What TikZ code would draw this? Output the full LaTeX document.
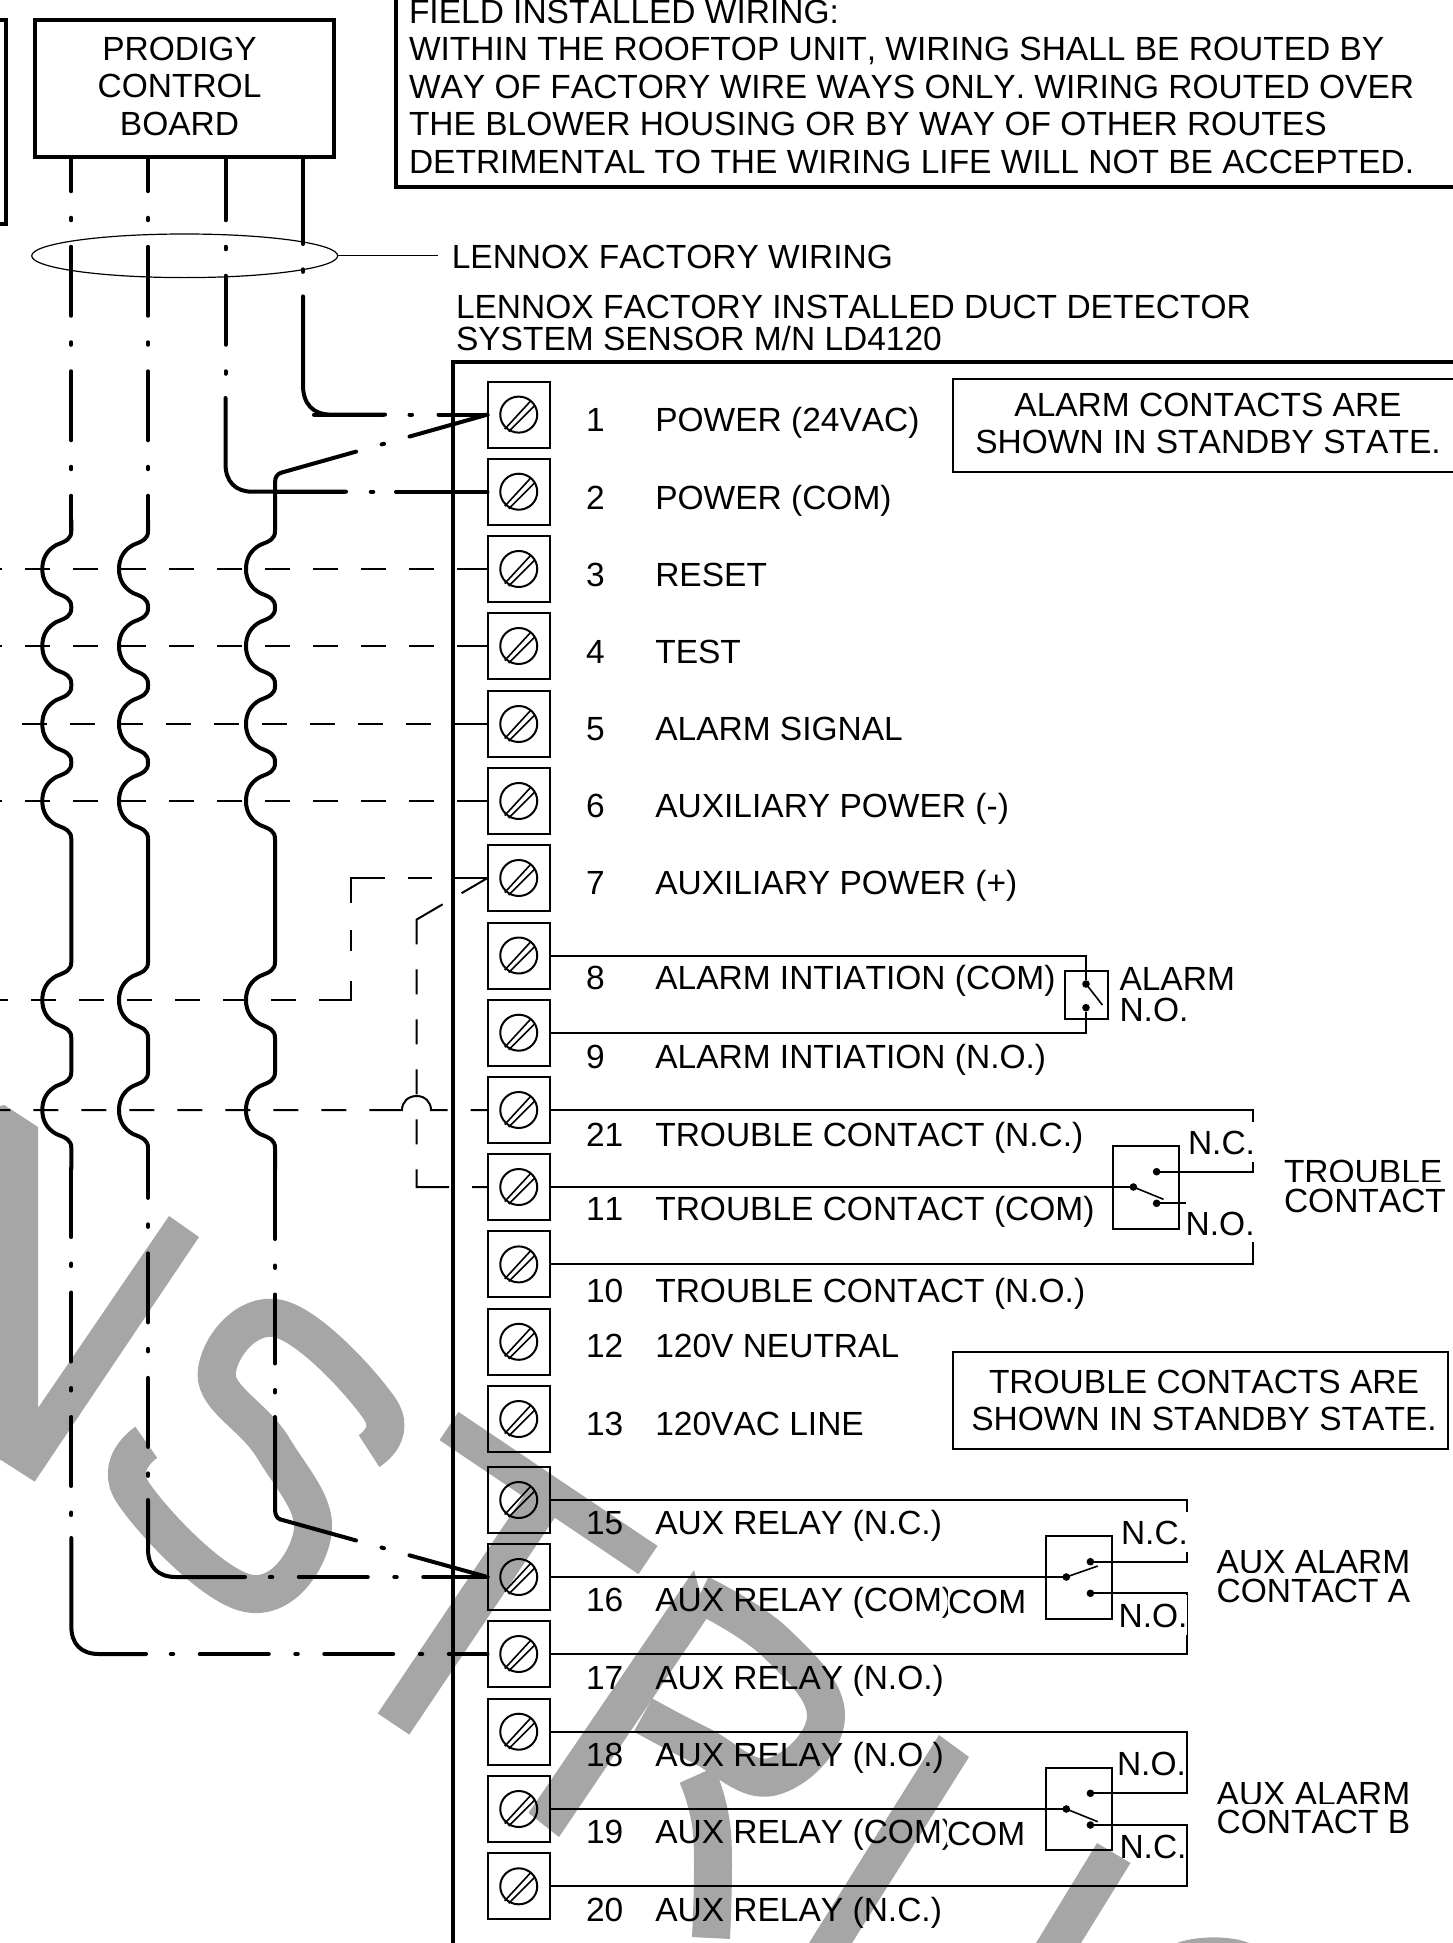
\documentclass[tikz,border=0pt]{standalone}
\usepackage{fontspec}
\setmainfont{Liberation Sans}[Kerning=Off]
\usetikzlibrary{shapes.geometric}
\definecolor{stampgray}{RGB}{166, 166, 166}

\newcommand{\wirehop}[2]{-- (#1,#2-38) .. controls (#1,#2-30) and (#1-5,#2-28) .. (#1-15,#2-24) .. controls (#1-24,#2-19) and (#1-29,#2-11) .. (#1-29,#2) .. controls (#1-29,#2+11) and (#1-24,#2+19) .. (#1-15,#2+24) .. controls (#1-5,#2+28) and (#1,#2+30) .. (#1,#2+38)}
\newcommand{\wirewaves}[1]{\wirehop{#1}{569} \wirehop{#1}{646} \wirehop{#1}{724} \wirehop{#1}{801} \wirehop{#1}{1000} \wirehop{#1}{1110}}

\tikzset{
  lbl/.style={font=\fontsize{33.5}{37.5}\selectfont, inner sep=0pt, outer sep=0pt, anchor=base west},
  masklbl/.style={lbl, fill=white, text height=33pt, text depth=7pt},
  cliplbl/.style={lbl, fill=white, text height=30pt, text depth=0pt},
  block/.style={font=\fontsize{33.5}{37.5}\selectfont, inner sep=0pt, outer sep=0pt},
  boxline/.style={black, line width=4pt},
  wire/.style={black, line width=4pt, line cap=round},
  wiredash/.style={dash pattern=on 69pt off 26.5pt on 2.5pt off 26.5pt},
  slantdash/.style={dash pattern=on 81pt off 26.5pt on 2.5pt off 26.5pt on 300pt off 1pt},
  thinline/.style={black, line width=2pt},
  hairline/.style={black, line width=1.2pt},
  blade/.style={black, line width=1.6pt},
  sigdash/.style={dash pattern=on #1 off 23pt on 25pt off 23pt on 25pt off 23pt on 25pt off 23pt on 25pt off 23pt on 25pt off 23pt on 25pt off 23pt on 25pt off 23pt on 25pt off 23pt on 25pt off 23pt on 25pt off 23pt},
  termbox/.style={draw, line width=2pt, minimum width=62.5pt, minimum height=66pt, inner sep=0pt, outer sep=0pt},
  thinbox/.style={draw, line width=2pt, inner sep=0pt, outer sep=0pt},
  contactdot/.style={circle, fill=black, minimum size=7.6pt, inner sep=0pt, outer sep=0pt},
  stamp/.style={stampgray, line width=38pt}
}

\begin{document}
\begin{tikzpicture}[x=1pt,y=-1pt]
    \useasboundingbox (0,0) rectangle (1452,1943);

    % Stamp behind the drawing
    \fill[stampgray] (0,1106) -- (4.3,1105) -- (38,1127) -- (38,1408) -- (169,1216) -- (199,1237) -- (34.7,1481.6) -- (1,1460) -- (0,1460) -- cycle;
    \draw[stamp] plot[smooth, tension=0.7] coordinates {(369,1451) (379.6,1408.6) (277.8,1318.5) (216.7,1373.8) (273,1447.6) (312.5,1533.7) (246.8,1593) (133,1492.7) (146.3,1442.3)};
    \draw[stamp, line width=34pt] (449,1426) -- (648,1560);
    \draw[stamp] (548.5,1493) -- (393.5,1724);
    \fill[stampgray] (694,1570) -- (528.5,1813) -- (559,1837) -- (707,1618) -- cycle;
    \draw[stamp] plot[smooth, tension=0.7] coordinates {(700,1594) (776,1643) (826,1717) (771,1777) (700,1745) (643,1715)};
    \draw[stamp] plot[smooth, tension=0.7] coordinates {(697,1775) (712,1833) (711,1938)};
    \fill[stampgray] (939,1735) -- (969,1757) -- (852,1943) -- (809,1943) -- cycle;
    \fill[stampgray] (1097,1843) -- (1130.5,1863) -- (1081,1943) -- (1036,1943) -- cycle;
    \fill[stampgray] (1177,1943) .. controls (1195,1936) and (1230,1935) .. (1249,1943) -- cycle;

    % Boards and note
    \draw[boxline] (-5,20) -- (5.5,20) -- (5.5,224) -- (-5,224);
    \node[thinbox, line width=4pt, minimum width=299.3pt, minimum height=137pt] (board) at (184.3,88.5) {};
    \node[block, align=center] (boardtext) at (179.5,86) {PRODIGY\\CONTROL\\BOARD};
    \draw[boxline] (396,-10) -- (396,186.5) -- (1460,186.5);
    \node[block, align=left, anchor=north west] (fieldnote) at (409,0) {FIELD INSTALLED WIRING:\\WITHIN THE ROOFTOP UNIT, WIRING SHALL BE ROUTED BY\\WAY OF FACTORY WIRE WAYS ONLY. WIRING ROUTED OVER\\THE BLOWER HOUSING OR BY WAY OF OTHER ROUTES\\DETRIMENTAL TO THE WIRING LIFE WILL NOT BE ACCEPTED.};

    % Wire bundle
    \node[ellipse, draw, line width=1.2pt, minimum width=306pt, minimum height=43.6pt, inner sep=0pt, outer sep=0pt] (bundle) at (184.7,255.8) {};
    \node[lbl] (factorywiring) at (451.8,268.5) {LENNOX FACTORY WIRING};
    \draw[hairline, shorten >=14.3pt] (bundle.east) -- (bundle.east -| factorywiring.west);

    % Duct detector
    \node[lbl] (detector1) at (456,318) {LENNOX FACTORY INSTALLED DUCT DETECTOR};
    \node[lbl] (detector2) at (456,350) {SYSTEM SENSOR M/N LD4120};
    \draw[boxline] (1460,362) -- (452.8,362) -- (452.8,1950);

    % Terminals
    \foreach \n/\ty/\ly/\txt in {1/414.6/431/{POWER (24VAC)}, 2/491.7/509/{POWER (COM)}, 3/569/586/{RESET}, 4/646/663.7/{TEST}, 5/724/740.5/{ALARM SIGNAL}, 6/801/817/{AUXILIARY POWER (-)}, 7/878/894.5/{AUXILIARY POWER (+)}, 8/955.5/989.6/{ALARM INTIATION (COM)}, 9/1032.7/1068/{ALARM INTIATION (N.O.)}, 21/1110/1146/{TROUBLE CONTACT (N.C.)}, 11/1187/1220/{TROUBLE CONTACT (COM)}, 10/1264.4/1302/{TROUBLE CONTACT (N.O.)}, 12/1341.8/1357.5/{120V NEUTRAL}, 13/1419/1435.6/{120VAC LINE}, 15/1500/1534.7/{AUX RELAY (N.C.)}, 16/1577/1611.5/{AUX RELAY (COM)}, 17/1654/1689.6/{AUX RELAY (N.O.)}, 18/1731.7/1766.4/{AUX RELAY (N.O.)}, 19/1809/1843/{AUX RELAY (COM)}, 20/1886.3/1921/{AUX RELAY (N.C.)}}
    {
        \node[termbox] (t\n) at (518.75,\ty) {};
        \draw[thinline] (t\n.center) circle [x radius=18.5pt, y radius=18pt];
        \draw[blade] (t\n.center) +(-14,14.5) -- +(11.6,-13.3) +(-10,17) -- +(16,-9);
        \node[lbl] (num\n) at (586,\ly) {\n};
        \node[lbl] (lab\n) at (655.3,\ly) {\txt};
    }
    \node[cliplbl] (comA) at (948,1613) {COM};
    \node[cliplbl] (comB) at (947,1845) {COM};

    % Signal lines from the left
    \coordinate (edge3) at (0,569);
    \coordinate (edge4) at (0,646);
    \coordinate (edge5) at (19,724);
    \coordinate (edge6) at (0,801);
    \coordinate (edge7) at (0,1000);
    \coordinate (edge21) at (0,1110);
    \draw[thinline, sigdash=30.5pt] (t3.west) -- (edge3);
    \draw[thinline, sigdash=30.5pt] (t4.west) -- (edge4);
    \draw[thinline, sigdash=34pt] (t5.west) -- (edge5);
    \draw[thinline, sigdash=30.5pt] (t6.west) -- (edge6);
    \draw[thinline, dash pattern=on 33pt off 23pt on 24pt off 23pt on 58pt off 27pt on 21pt off 30pt on 52pt off 23pt on 25pt off 23pt on 25pt off 23pt on 25pt off 23pt on 25pt off 23pt on 25pt off 23pt on 25pt off 23pt on 25pt] (t7.west) -- (351.4,878) -- (351.4,1000) -- (edge7);
    \draw[thinline, dash pattern=on 17pt off 23pt on 94pt off 23pt on 25pt off 23pt on 25pt off 23pt on 25pt off 23pt on 25pt off 23pt on 25pt off 23pt on 25pt off 23pt on 25pt off 23pt on 25pt] (t21.west) -- (431,1110) .. controls (431,1102) and (425,1096) .. (416.7,1096) .. controls (408,1096) and (402,1102) .. (402,1110) -- (edge21);
    \draw[thinline, dash pattern=on 30pt off 22pt on 55pt off 25pt on 25pt off 25pt on 25pt off 25pt on 25pt off 25pt on 25pt off 25pt on 50pt off 23pt on 30pt] (t7.west) -- (416.7,919.5) -- (416.7,1187) -- (t11.west);

    % Wires out of the board
    \coordinate (wirea) at (71.3,157);
    \coordinate (wireb) at (148,157);
    \coordinate (wirec) at (225.5,157);
    \coordinate (wired) at (303,157);
    \coordinate (kink1) at (281.5,472.6);
    \coordinate (kink2) at (280,1519.3);

    % Wire to terminal 17
    \draw[wire, wiredash, dash phase=34.75pt] (wirea) -- (71.3,531);
    \draw[wire] (71.3,520) \wirewaves{71.3} -- (71.3,1169);
    \draw[wire, wiredash] (71.3,1168) -- (71.3,1538);
    \draw[wire] (71.3,1538) -- (71.3,1626) .. controls (71.3,1644) and (81,1654) .. (99,1654) -- (146,1654);
    \draw[wire, wiredash, dash phase=23.75pt] (99,1654) -- (t17.west);

    % Wire to terminal 16
    \draw[wire, wiredash, dash phase=34.75pt] (wireb) -- (148,531);
    \draw[wire] (148,520) \wirewaves{148};
    \draw[wire, wiredash, dash phase=19.15pt] (148,1148) -- (148,1500);
    \draw[wire] (148,1500) -- (148,1549) .. controls (148,1567) and (158,1577) .. (176,1577) -- (245,1577);
    \draw[wire, wiredash, dash phase=1.75pt] (176,1577) -- (t16.west);

    % Wire to terminal 2
    \draw[wire, wiredash, dash phase=5.75pt] (wirec) -- (225.5,398);
    \draw[wire] (225.5,398) -- (225.5,464) .. controls (225.5,482) and (236,491.7) .. (252,491.7) -- (346,491.7);
    \draw[wire, wiredash] (275.25,491.7) -- (396,491.7);
    \draw[wire] (396,491.7) -- (t2.west);

    % Wire to terminal 1
    \draw[wire] (wired) -- (303,244);
    \draw[wire, wiredash] (303,173.85) -- (303,296.4);
    \draw[wire] (303,296.4) -- (303,385) .. controls (303,404) and (313,414.6) .. (331,414.6) -- (385,414.6);
    \draw[wire, wiredash] (314,414.6) -- (t1.west);

    % Wire from terminal 1 to terminal 16
    \draw[wire, slantdash] (t1.west) -- (kink1);
    \draw[wire] (kink1) .. controls (277,474) and (275,477) .. (275,483) \wirewaves{275} -- (275,1170);
    \draw[wire, wiredash] (275,1170) -- (275,1417);
    \draw[wire] (275,1417) -- (275,1509) .. controls (275,1515) and (277,1518) .. (kink2);
    \draw[wire, slantdash] (t16.west) -- (kink2);

    % Notes on contact state
    \node[thinbox, minimum width=504pt, minimum height=93pt] (alarmbox) at (1205,425.5) {};
    \node[block, align=center] (alarmnote) at (1208,423.5) {ALARM CONTACTS ARE\\SHOWN IN STANDBY STATE.};
    \node[thinbox, minimum width=495pt, minimum height=97pt] (troublebox) at (1200.5,1400.5) {};
    \node[block, align=center] (troublenote) at (1204,1400.5) {TROUBLE CONTACTS ARE\\SHOWN IN STANDBY STATE.};

    % Alarm contact
    \node[thinbox, minimum width=42.5pt, minimum height=48pt] (alarmrelay) at (1086.3,995) {};
    \node[contactdot] (alarmdot1) at (1086,984) {};
    \node[contactdot] (alarmdot2) at (1086,1007.7) {};
    \coordinate (alarmtip) at (1102.4,1005);
    \draw[thinline] (t8.east) -| (alarmdot1);
    \draw[thinline] (t9.east) -| (alarmdot2);
    \draw[blade] (alarmdot1.center) -- (alarmtip);
    \node[lbl] (alarmlbl1) at (1119.5,990) {ALARM};
    \node[lbl] (alarmlbl2) at (1119.5,1021) {N.O.};

    % Trouble contact
    \node[thinbox, minimum width=66.2pt, minimum height=83pt] (troublerelay) at (1145.7,1187.5) {};
    \node[contactdot] (troubledot0) at (1133.4,1187) {};
    \node[contactdot] (troubledot1) at (1156.6,1171.7) {};
    \node[contactdot] (troubledot2) at (1156.6,1203.3) {};
    \coordinate (troublecor1) at (1253,1171.7);
    \coordinate (troublecor2) at (1253,1203.3);
    \coordinate (troubletip) at (1163.5,1199.3);
    \draw[thinline] (t21.east) -| (troublecor1) -- (troubledot1);
    \draw[thinline] (t11.east) -- (troubledot0);
    \draw[thinline] (troubledot2) -- (troublecor2) |- (t10.east);
    \draw[blade] (troubledot0.center) -- (troubletip);
    \node[masklbl] (troublelbl1) at (1188,1154.7) {N.C.};
    \node[masklbl] (troublelbl2) at (1185.7,1235) {N.O.};
    \node[lbl] (troublename1) at (1284,1183.7) {TROUBLE};
    \node[cliplbl] (troublename2) at (1284,1212) {CONTACT};

    % Aux alarm contact A
    \node[thinbox, minimum width=66pt, minimum height=82.7pt] (auxrelayA) at (1079,1577.3) {};
    \node[contactdot] (auxAdot0) at (1066.3,1577) {};
    \node[contactdot] (auxAdot1) at (1090.4,1561.7) {};
    \node[contactdot] (auxAdot2) at (1090.4,1593.3) {};
    \coordinate (auxAcor1) at (1186.6,1561.7);
    \coordinate (auxAcor2) at (1186.6,1593.3);
    \coordinate (auxAtip) at (1097.8,1566);
    \draw[thinline] (t15.east) -| (auxAcor1) -- (auxAdot1);
    \draw[thinline] (t16.east) -- (auxAdot0);
    \draw[thinline] (auxAdot2) -- (auxAcor2) |- (t17.east);
    \draw[blade] (auxAdot0.center) -- (auxAtip);
    \node[masklbl] (auxAlbl1) at (1121,1544.7) {N.C.};
    \node[masklbl] (auxAlbl2) at (1118.6,1627.7) {N.O.};
    \node[lbl] (auxAname1) at (1216.7,1573.7) {AUX ALARM};
    \node[cliplbl] (auxAname2) at (1216.7,1602.7) {CONTACT A};

    % Aux alarm contact B
    \node[thinbox, minimum width=66pt, minimum height=81.7pt] (auxrelayB) at (1079,1809.2) {};
    \node[contactdot] (auxBdot0) at (1066.3,1809) {};
    \node[contactdot] (auxBdot1) at (1090.4,1793.3) {};
    \node[contactdot] (auxBdot2) at (1090.4,1825) {};
    \coordinate (auxBcor1) at (1186.6,1793.3);
    \coordinate (auxBcor2) at (1186.6,1825);
    \coordinate (auxBtip) at (1097.8,1821.7);
    \draw[thinline] (t18.east) -| (auxBcor1) -- (auxBdot1);
    \draw[thinline] (t19.east) -- (auxBdot0);
    \draw[thinline] (auxBdot2) -- (auxBcor2) |- (t20.east);
    \draw[blade] (auxBdot0.center) -- (auxBtip);
    \node[lbl] (auxBlbl1) at (1117,1775) {N.O.};
    \node[lbl] (auxBlbl2) at (1119.5,1858.7) {N.C.};
    \node[lbl] (auxBname1) at (1216.7,1805) {AUX ALARM};
    \node[cliplbl] (auxBname2) at (1216.7,1833.7) {CONTACT B};
\end{tikzpicture}
\end{document}
